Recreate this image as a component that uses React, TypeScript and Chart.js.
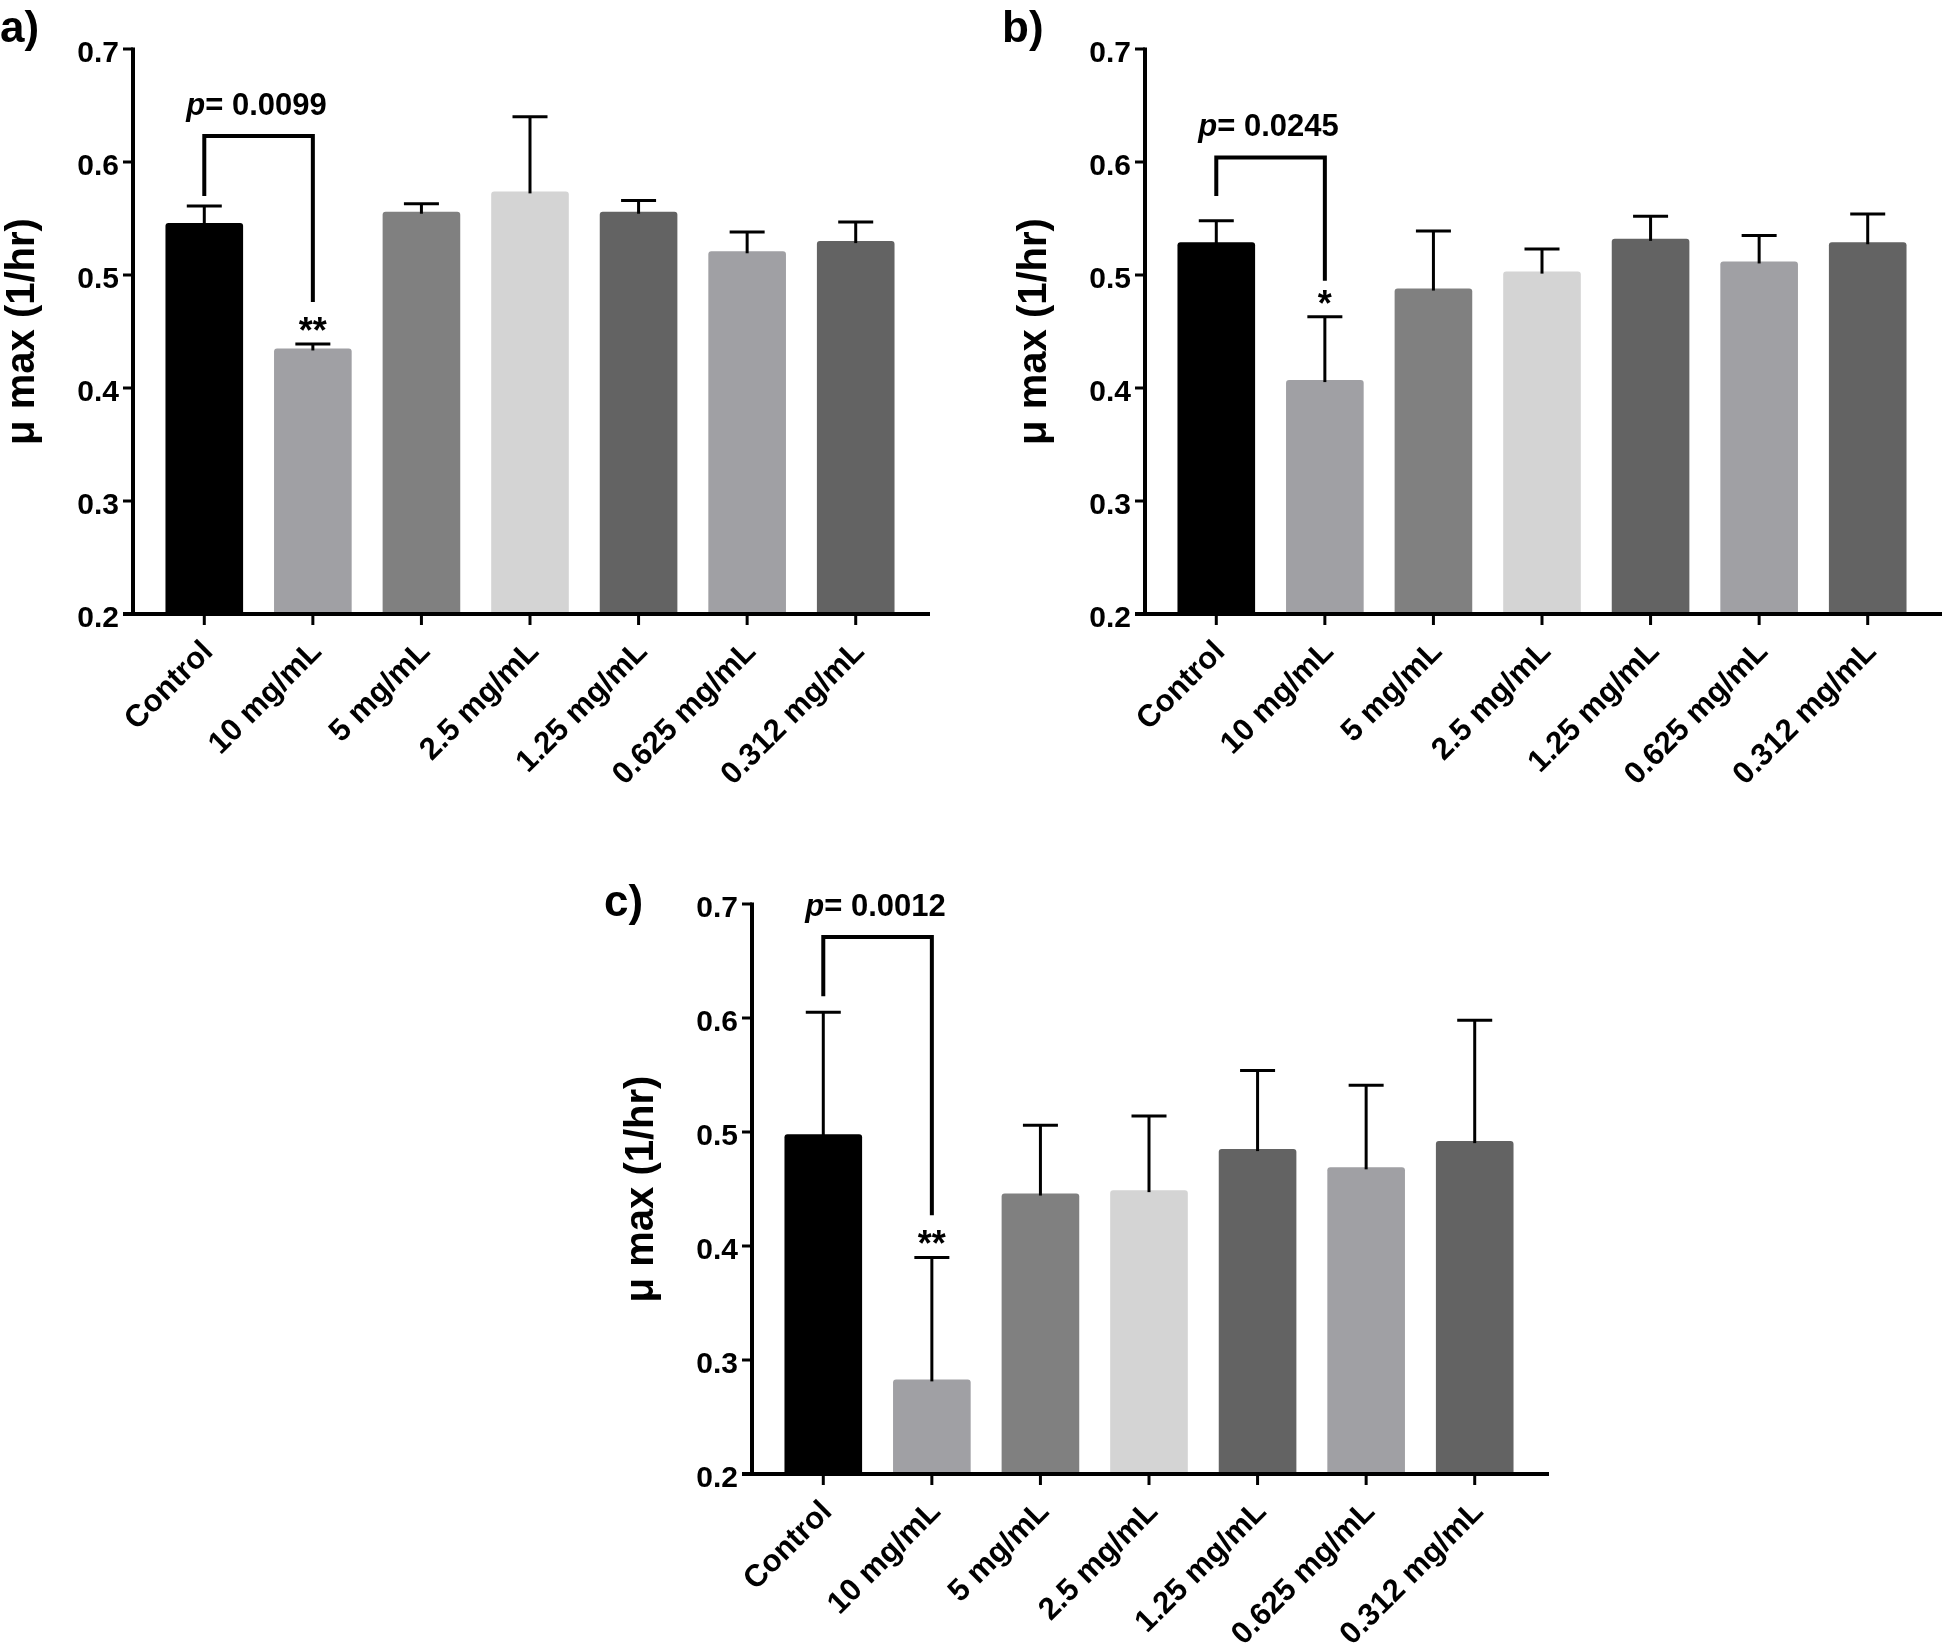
import React, { useEffect, useRef } from "react";
import { Chart, registerables } from "chart.js";

Chart.register(...registerables);

// ---------- data ----------
const categories = [
  "Control",
  "10 mg/mL",
  "5 mg/mL",
  "2.5 mg/mL",
  "1.25 mg/mL",
  "0.625 mg/mL",
  "0.312 mg/mL",
];
const barColors = ["#000000", "#a0a0a4", "#808080", "#d4d4d4", "#636363", "#a0a0a4", "#636363"];
const yTickValues = [0.2, 0.3, 0.4, 0.5, 0.6, 0.7];
const Y_MIN = 0.2;
const Y_MAX = 0.7;
const yTitle = "\u03bc max (1/hr)";

// panel a
const meanA = [0.546, 0.435, 0.556, 0.574, 0.556, 0.521, 0.530];
const errA = [0.015, 0.004, 0.007, 0.066, 0.010, 0.017, 0.017];
const bracketA = [0.623, 0.570, 0.476]; // top, left leg end, right leg end
const pValueA = "0.0099";
const starsA = "**";

// panel b
const meanB = [0.529, 0.407, 0.488, 0.503, 0.532, 0.512, 0.529];
const errB = [0.019, 0.056, 0.051, 0.020, 0.020, 0.023, 0.025];
const bracketB = [0.604, 0.570, 0.495];
const pValueB = "0.0245";
const starsB = "*";

// panel c
const meanC = [0.498, 0.283, 0.446, 0.449, 0.485, 0.469, 0.492];
const errC = [0.107, 0.107, 0.060, 0.065, 0.069, 0.072, 0.106];
const bracketC = [0.671, 0.619, 0.427];
const pValueC = "0.0012";
const starsC = "**";

// ---------- layout / style ----------
const FONT = "'Liberation Sans', Arial, Helvetica, sans-serif";
const GAP_L = 17;
const GAP_R = 20;

type Panel = {
  letter: string;
  mean: number[];
  err: number[];
  bracket: number[];
  pValue: string;
  stars: string;
  left: number;
  top: number;
  width: number;
  height: number;
  yW: number;
  padTop: number;
  xH: number;
  padRight: number;
  letterX: number;
  letterY: number;
};

const panels: Panel[] = [
  {
    letter: "a)", mean: meanA, err: errA, bracket: bracketA, pValue: pValueA, stars: starsA,
    left: 0, top: 0, width: 960, height: 840, yW: 150, padTop: 48, xH: 226, padRight: 50,
    letterX: 0, letterY: 42,
  },
  {
    letter: "b)", mean: meanB, err: errB, bracket: bracketB, pValue: pValueB, stars: starsB,
    left: 990, top: 0, width: 955, height: 840, yW: 172, padTop: 48, xH: 226, padRight: 23,
    letterX: 12, letterY: 42,
  },
  {
    letter: "c)", mean: meanC, err: errC, bracket: bracketC, pValue: pValueC, stars: starsC,
    left: 600, top: 850, width: 980, height: 793, yW: 169, padTop: 54, xH: 169, padRight: 51,
    letterX: 4, letterY: 66,
  },
];

function makeDecor(p: Panel) {
  return {
    id: "decor",
    afterDatasetsDraw(chart: any) {
      const ctx: CanvasRenderingContext2D = chart.ctx;
      const ca = chart.chartArea;
      const xs = chart.scales.x;
      const ys = chart.scales.y;
      const axisX = ca.left - GAP_L;
      const axisY = ys.getPixelForValue(Y_MIN);
      ctx.save();
      ctx.strokeStyle = "#000";
      ctx.fillStyle = "#000";
      ctx.lineCap = "butt";

      // error bars (upper only)
      const meta = chart.getDatasetMeta(0);
      meta.data.forEach((bar: any, i: number) => {
        const topPx = ys.getPixelForValue(p.mean[i] + p.err[i]);
        ctx.lineWidth = 3;
        ctx.beginPath();
        ctx.moveTo(bar.x, bar.y + 2);
        ctx.lineTo(bar.x, topPx);
        ctx.stroke();
        ctx.beginPath();
        ctx.moveTo(bar.x - 17.5, topPx);
        ctx.lineTo(bar.x + 17.5, topPx);
        ctx.stroke();
      });

      // axes
      ctx.lineWidth = 4;
      const yTopPx = ys.getPixelForValue(Y_MAX);
      ctx.beginPath();
      ctx.moveTo(axisX, yTopPx - 1.5);
      ctx.lineTo(axisX, axisY);
      ctx.stroke();
      ctx.beginPath();
      ctx.moveTo(axisX - 10, axisY);
      ctx.lineTo(ca.right + GAP_R, axisY);
      ctx.stroke();

      ctx.lineWidth = 3;
      yTickValues.forEach((v) => {
        const py = ys.getPixelForValue(v);
        ctx.beginPath();
        ctx.moveTo(axisX - 10, py);
        ctx.lineTo(axisX, py);
        ctx.stroke();
      });
      categories.forEach((_c, i) => {
        const px = xs.getPixelForValue(i);
        ctx.beginPath();
        ctx.moveTo(px, axisY);
        ctx.lineTo(px, axisY + 11);
        ctx.stroke();
      });

      // significance bracket
      const lx = xs.getPixelForValue(0);
      const rx = xs.getPixelForValue(1);
      const ty = ys.getPixelForValue(p.bracket[0]);
      ctx.lineWidth = 4;
      ctx.lineJoin = "miter";
      ctx.beginPath();
      ctx.moveTo(lx, ys.getPixelForValue(p.bracket[1]));
      ctx.lineTo(lx, ty);
      ctx.lineTo(rx, ty);
      ctx.lineTo(rx, ys.getPixelForValue(p.bracket[2]));
      ctx.stroke();

      // p-value text
      ctx.textBaseline = "alphabetic";
      ctx.textAlign = "left";
      ctx.font = `italic bold 31px ${FONT}`;
      const w1 = ctx.measureText("p").width;
      const rest = "= " + p.pValue;
      ctx.font = `bold 31px ${FONT}`;
      const w2 = ctx.measureText(rest).width;
      const sx = (lx + rx) / 2 - (w1 + w2) / 2 - 2;
      const by = ty - 21;
      ctx.font = `italic bold 31px ${FONT}`;
      ctx.fillText("p", sx, by);
      ctx.font = `bold 31px ${FONT}`;
      ctx.fillText(rest, sx + w1, by);

      // stars above the 10 mg/mL error bar
      const starBase = ys.getPixelForValue(p.mean[1] + p.err[1]) - 1;
      ctx.font = `bold 36px ${FONT}`;
      ctx.textAlign = "center";
      ctx.fillText(p.stars, rx, starBase);

      // y title
      ctx.save();
      ctx.translate(ca.left - 127, (ca.top + ca.bottom) / 2);
      ctx.rotate(-Math.PI / 2);
      ctx.textAlign = "center";
      ctx.textBaseline = "middle";
      ctx.font = `bold 40px ${FONT}`;
      ctx.fillText(yTitle, 0, 0);
      ctx.restore();

      // panel letter
      ctx.textAlign = "left";
      ctx.textBaseline = "alphabetic";
      ctx.font = `bold 44px ${FONT}`;
      ctx.fillText(p.letter, p.letterX, p.letterY);

      ctx.restore();
    },
  };
}

function BarPanel({ p }: { p: Panel }) {
  const ref = useRef<HTMLCanvasElement | null>(null);
  useEffect(() => {
    if (!ref.current) return;
    const tickFont = { family: FONT, size: 30, weight: "bold" as const };
    const xFont = { family: FONT, size: 31, weight: "bold" as const };
    const chart = new Chart(ref.current, {
      type: "bar",
      data: {
        labels: categories,
        datasets: [
          {
            data: p.mean,
            backgroundColor: barColors,
            borderWidth: 0,
            base: Y_MIN,
            barPercentage: 0.715,
            categoryPercentage: 1,
            borderRadius: 3,
          } as any,
        ],
      },
      options: {
        responsive: false,
        animation: false,
        devicePixelRatio: 1,
        layout: { padding: { left: 0, top: p.padTop, right: p.padRight, bottom: 0 } },
        plugins: { legend: { display: false }, tooltip: { enabled: false }, title: { display: false } },
        scales: {
          x: {
            type: "category",
            offset: true,
            grid: { display: false, drawTicks: false },
            border: { display: false },
            ticks: {
              autoSkip: false,
              maxRotation: 45,
              minRotation: 45,
              padding: 20,
              labelOffset: 4,
              color: "#000",
              font: xFont,
            },
            afterFit: (s: any) => {
              s.height = p.xH;
            },
          },
          y: {
            min: Y_MIN,
            max: Y_MAX,
            grid: { display: false, drawTicks: false },
            border: { display: false },
            ticks: {
              stepSize: 0.1,
              padding: 31,
              labelOffset: 5,
              color: "#000",
              font: tickFont,
              callback: (v: any) => Number(v).toFixed(1),
            },
            afterFit: (s: any) => {
              s.width = p.yW;
            },
          },
        },
      } as any,
      plugins: [makeDecor(p)],
    });
    return () => chart.destroy();
  }, [p]);
  return (
    <canvas
      ref={ref}
      width={p.width}
      height={p.height}
      style={{ position: "absolute", left: p.left, top: p.top, width: p.width, height: p.height }}
    />
  );
}

export default function App() {
  return (
    <div
      style={{
        position: "absolute",
        left: 0,
        top: 0,
        width: 1945,
        height: 1643,
        overflow: "hidden",
        background: "#fff",
      }}
    >
      {panels.map((p) => (
        <BarPanel key={p.letter} p={p} />
      ))}
    </div>
  );
}
